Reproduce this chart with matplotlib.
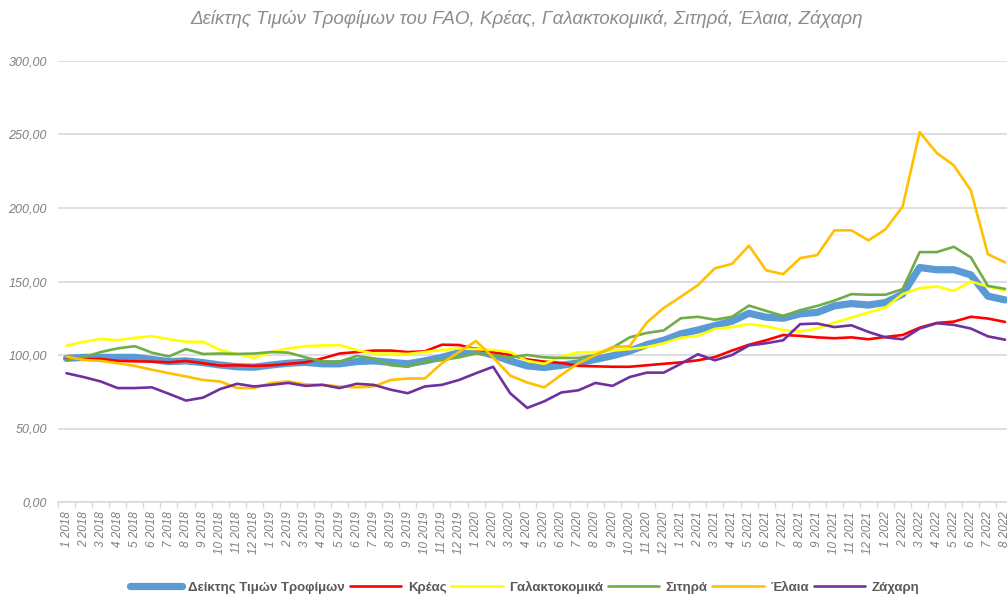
import matplotlib
matplotlib.use("Agg")
import matplotlib.pyplot as plt
import numpy as np

plt.rcParams['font.family'] = ['Liberation Sans', 'DejaVu Sans']

# months 1 2018 .. 8 2022
months = [f"{m} {y}" for y in range(2018, 2023) for m in range(1, 13)][:56]

ffpi = [97.7, 98.4, 98.4, 98.4, 98.4, 97, 95.5, 96, 94.8, 93.2, 92, 91.7, 93.2, 94.4, 95,
        94, 94, 95.5, 96, 95, 94, 96, 98.4, 101.6, 103, 100, 96, 92.6, 91.5,
        93, 94.6, 97, 99.5, 102.7, 107, 110, 114.4, 117, 120, 123, 128.4, 125.7,
        125, 128, 129, 133.4, 135, 134, 135.7, 141.4, 159.5, 158, 158, 154.5, 140, 137.5]
meat = [97.7, 97.3, 97.3, 96, 95.7, 95.5, 95, 96, 94.4, 92.8, 93, 92.6, 93, 94, 95,
        97.7, 101, 102, 103, 103, 102, 102.5, 107, 106.8, 104, 102, 100, 97, 95.5,
        94.6, 92.6, 92.3, 92, 92, 93, 94, 95, 96.4, 98.6, 103, 107, 110,
        113.6, 113, 112, 111.4, 112, 110.7, 112.3, 113.6, 118.6, 121.8, 122.7, 126, 124.8, 122.5]
dairy = [106.3, 109, 111, 110, 111.7, 112.8, 110.8, 109, 109, 103.4, 100.7, 98, 102, 104.5, 106,
         106.5, 106.8, 103.4, 101, 101, 100.7, 102, 103.4, 104.5, 104, 103.4, 102, 96, 94,
         99, 101.8, 102, 103, 104, 105.4, 108, 111.7, 113, 117.8, 119, 121, 119.6,
         117, 116, 118, 122, 125.5, 128.9, 132.3, 141.4, 145.5, 146.6, 143.6, 150, 146.6, 143.6]
cereals = [96.6, 98.4, 102, 104.5, 106, 101.6, 99, 104, 100.7, 101, 100.7, 101, 102, 101.6, 98.4,
           95.5, 95.5, 99.3, 97.7, 93, 92, 95.5, 96.6, 98.4, 101, 100, 98.4, 100, 98.4,
           98, 98, 100, 105, 112, 115, 116.7, 125, 126, 124, 126, 133.6, 130,
           126.6, 130.5, 133.4, 137, 141.4, 141, 141, 144.8, 170, 170, 173.6, 166.4, 147, 145]
oils = [98.9, 96.6, 96, 94.4, 92.6, 90, 87.6, 85.4, 83, 82, 77.5, 77.5, 81, 82, 80,
        79.7, 78.6, 78, 78.6, 83, 84, 84, 94.4, 102, 109.5, 98.4, 86, 81.3, 78,
        86.5, 94.4, 100, 105.4, 106, 122, 132, 139.6, 147.5, 159, 162, 174.4, 157.6,
        155, 165.9, 168, 184.8, 184.8, 178, 185.5, 200.9, 251.6, 237.5, 229, 212, 168.6, 163]
sugar = [87.6, 85, 82, 77.5, 77.5, 78, 73.6, 69, 71, 76.8, 80.4, 78.6, 79.7, 81, 79,
         79.7, 77.5, 80.4, 79.7, 76.4, 74, 78.6, 79.7, 83, 87.6, 92, 74, 64, 68.5,
         74.5, 76, 81, 79, 85, 88, 88, 94, 100.5, 96.4, 100, 106.5, 108,
         110, 121, 121.4, 119, 120.2, 115.7, 112, 110.7, 118, 121.6, 120.5, 118, 112.7, 110.4]

series = [
    ("Δείκτης Τιμών Τροφίμων", ffpi, "#5B9BD5", 5.2),
    ("Κρέας", meat, "#FF0000", 1.9),
    ("Γαλακτοκομικά", dairy, "#FFFF00", 1.9),
    ("Σιτηρά", cereals, "#70AD47", 1.9),
    ("Έλαια", oils, "#FFC000", 1.9),
    ("Ζάχαρη", sugar, "#7030A0", 1.9),
]

fig = plt.figure(figsize=(10.07, 5.95), dpi=100)
ax = fig.add_axes([58 / 1007, 93 / 595, 955.5 / 1007, 441 / 595])

x = np.arange(len(months))
for name, vals, col, lw in series:
    ax.plot(x, vals, color=col, linewidth=lw, label=name, solid_capstyle='round')

ax.set_xlim(-0.5, len(months) - 0.5)
ax.set_ylim(0, 300)
ax.set_yticks(np.arange(0, 301, 50))
ax.set_yticklabels([f"{v:.2f}".replace('.', ',') for v in np.arange(0, 301, 50)],
                   fontsize=9, style='italic', color='#7f7f7f')
ax.set_xticks(x)
ax.set_xticklabels(months, rotation=90, fontsize=8.5, style='italic', color='#7f7f7f')
ax.set_xticks(np.arange(-0.5, len(months), 1), minor=True)
ax.tick_params(axis='x', which='major', length=0, pad=7)
ax.tick_params(axis='x', which='minor', length=4, color='#d9d9d9', width=1)
ax.tick_params(axis='y', length=0, pad=8)

ax.grid(axis='y', color='#d9d9d9', linewidth=1.2)
ax.set_axisbelow(True)
for s in ['top', 'right', 'left']:
    ax.spines[s].set_visible(False)
ax.spines['bottom'].set_color('#d9d9d9')
ax.spines['bottom'].set_linewidth(1.2)

fig.text(527 / 1007, 1 - 19 / 595,
         "Δείκτης Τιμών Τροφίμων του FAO, Κρέας, Γαλακτοκομικά, Σιτηρά, Έλαια, Ζάχαρη",
         ha='center', va='center', fontsize=13.5, style='italic', color='#8c8c8c')

leg = fig.legend(loc='center', bbox_to_anchor=(525 / 1007, 1 - 587 / 595), ncol=6,
                 frameon=False, handlelength=3.9, columnspacing=0.35, handletextpad=0.5,
                 prop={'weight': 'bold', 'size': 9.5})
for t in leg.get_texts():
    t.set_color('#595959')

fig.savefig("out.png", dpi=100)
